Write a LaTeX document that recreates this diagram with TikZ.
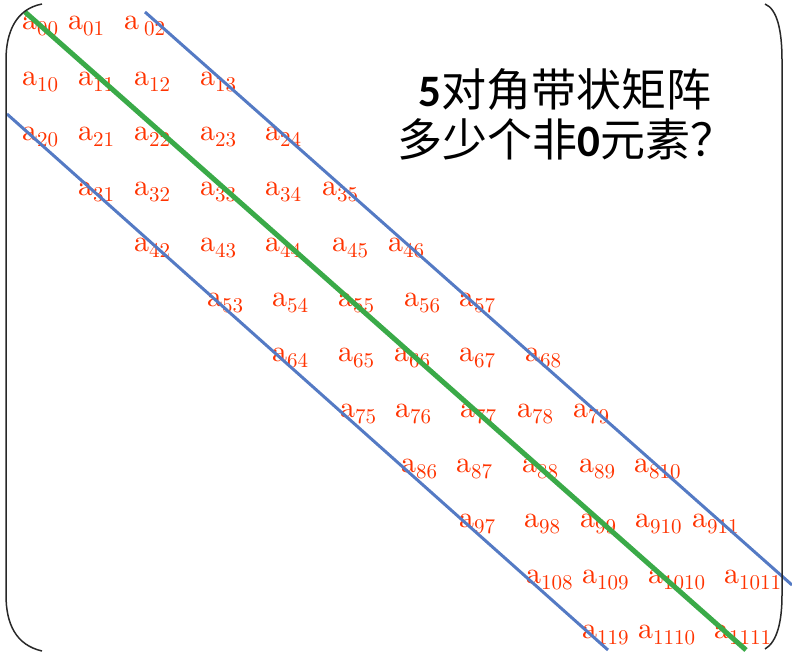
\documentclass[tikz,border=0pt]{standalone}
\usepackage{fontspec}
\usetikzlibrary{positioning}
\newfontfamily\cjk{Noto Sans CJK SC}
\newfontfamily\digitfont{Carlito}
\newfontfamily\entryfont{lmroman10-regular.otf}
\definecolor{entryC}{RGB}{255,51,0}
\definecolor{bandC}{RGB}{84,122,196}
\definecolor{diagC}{RGB}{58,170,72}
\definecolor{parenC}{RGB}{40,40,40}
\newcommand{\elemidx}[1]{\raisebox{-6pt}{\fontsize{21}{21}\selectfont #1}}

\begin{document}
\begin{tikzpicture}[x=1pt,y=-1pt,
    entry/.style={text=entryC,anchor=base west,inner sep=0pt,
      font=\entryfont\fontsize{30}{30}\selectfont},
    question/.style={anchor=base west,inner sep=0pt,
      font=\cjk\fontsize{45}{45}\selectfont}]
  \useasboundingbox (0,0) rectangle (792,655);
  \def\rowgap{55.3}
  % entries of the band: x / row / index
  \node[entry] (e02) at (124,30) {a\,\elemidx{02}};
  \foreach \x/\r/\s in {22/0/00,68/0/01,
      22/1/10,78/1/11,134/1/12,200/1/13,
      22/2/20,78/2/21,134/2/22,200/2/23,265/2/24,
      78/3/31,134/3/32,200/3/33,265/3/34,322/3/35,
      134/4/42,200/4/43,265/4/44,332/4/45,388/4/46,
      207/5/53,272/5/54,338/5/55,404/5/56,459/5/57,
      272/6/64,338/6/65,394/6/66,459/6/67,525/6/68,
      340/7/75,395/7/76,460/7/77,517/7/78,573/7/79,
      401/8/86,456/8/87,522/8/88,579/8/89,634/8/810,
      459/9/97,524/9/98,580/9/99,635/9/910,692/9/911,
      526/10/108,582/10/109,648/10/1010,724/10/1011,
      582/11/119,638/11/1110,714/11/1111}{
    \node[entry] (e\s) at (\x,{30+\rowgap*\r}) {a\elemidx{\s}};
  }
  % band borders and main diagonal
  \coordinate (upS) at (145,12);
  \coordinate (upE) at (792,585);
  \coordinate (loS) at (7,114);
  \coordinate (loE) at (608,650);
  \coordinate (diagS) at (25,12);
  \coordinate (diagE) at (746,650);
  \draw[bandC,line width=3pt] (upS) -- (upE);
  \draw[bandC,line width=3pt] (loS) -- (loE);
  \draw[diagC,line width=5pt] (diagS) -- (diagE);
  % brackets
  \draw[parenC,line width=1.5pt] (42,4) .. controls (16,9) and (6,32) .. (6,60)
    -- (6,595) .. controls (6,624) and (16,645) .. (42,651);
  \draw[parenC,line width=1.5pt] (765,4) .. controls (777,9) and (782,30) .. (782,60)
    -- (782,595) .. controls (782,622) and (777,642) .. (765,649);
  % question
  \node[question] (q1) at (418,107) {{\digitfont\bfseries 5}对角带状矩阵};
  \node[question] (q2) at (397,157) {多少个非{\digitfont\bfseries 0}元素？};
\end{tikzpicture}
\end{document}
